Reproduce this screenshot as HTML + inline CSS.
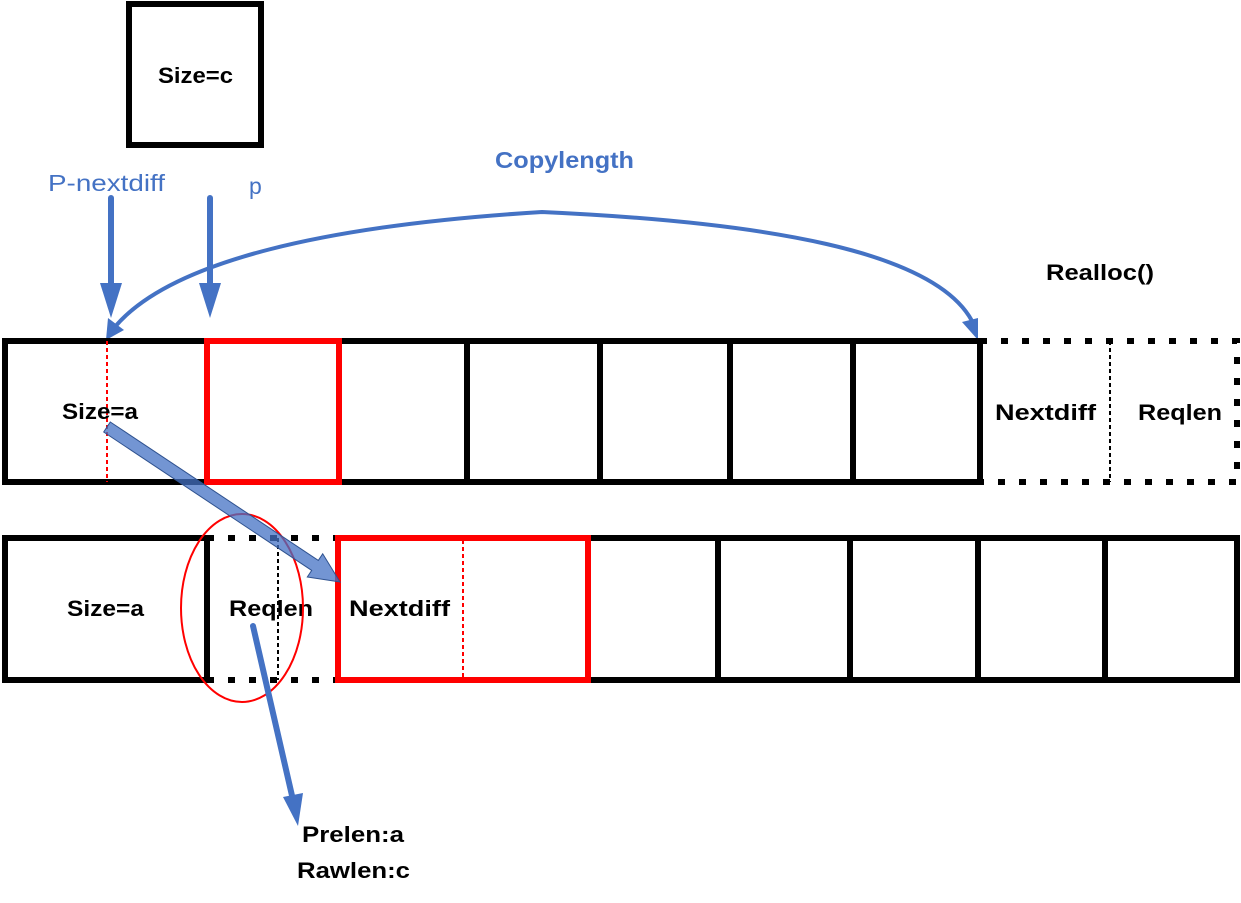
<!DOCTYPE html>
<html><head><meta charset="utf-8"><style>
html,body{margin:0;padding:0;background:#fff;}
svg{display:block;}
text{font-family:"Liberation Sans",sans-serif;}
</style></head><body>
<svg width="1241" height="903" viewBox="0 0 1241 903" xmlns="http://www.w3.org/2000/svg">
<!-- Size=c box -->
<rect x="129" y="4" width="132" height="141" fill="none" stroke="#000" stroke-width="6"/>
<text x="158" y="83" font-size="22" font-weight="bold" textLength="75" lengthAdjust="spacingAndGlyphs">Size=c</text>

<text x="48" y="191" font-size="23" fill="#4472C4" textLength="117" lengthAdjust="spacingAndGlyphs">P-nextdiff</text>
<text x="249" y="194" font-size="23" fill="#4472C4">p</text>
<text x="495" y="168" font-size="23" font-weight="bold" fill="#4472C4" textLength="139" lengthAdjust="spacingAndGlyphs">Copylength</text>
<text x="1046" y="280" font-size="22" font-weight="bold" textLength="108" lengthAdjust="spacingAndGlyphs">Realloc()</text>

<!-- down arrows -->
<line x1="111" y1="198" x2="111" y2="285" stroke="#4472C4" stroke-width="6" stroke-linecap="round"/>
<polygon points="100,283 122,283 111,318" fill="#4472C4"/>
<line x1="210" y1="198" x2="210" y2="285" stroke="#4472C4" stroke-width="6" stroke-linecap="round"/>
<polygon points="199,283 221,283 210,318" fill="#4472C4"/>

<!-- curved copylength -->
<path d="M114,328 C170,260 330,225 542,212 C760,222 940,250 974,325" fill="none" stroke="#4472C4" stroke-width="4"/>
<polygon points="106,340 108,318 124,330" fill="#4472C4"/>
<polygon points="978,340 962,322 978,318" fill="#4472C4"/>

<!-- top row -->
<rect x="5" y="341" width="975" height="141" fill="none" stroke="#000" stroke-width="6"/>
<g stroke="#000" stroke-width="6">
<line x1="467" y1="341" x2="467" y2="482"/>
<line x1="600" y1="341" x2="600" y2="482"/>
<line x1="730" y1="341" x2="730" y2="482"/>
<line x1="853" y1="341" x2="853" y2="482"/>
</g>
<rect x="207" y="341" width="132" height="141" fill="none" stroke="#f00" stroke-width="6"/>
<line x1="107" y1="341" x2="107" y2="482" stroke="#f00" stroke-width="2" stroke-dasharray="4,3"/>
<text x="62" y="419" font-size="22" font-weight="bold" textLength="76" lengthAdjust="spacingAndGlyphs">Size=a</text>
<!-- dotted realloc -->
<path d="M980,341 H1237 V482 H980" fill="none" stroke="#000" stroke-width="6" stroke-dasharray="7,14"/>
<line x1="1110" y1="341" x2="1110" y2="482" stroke="#000" stroke-width="2" stroke-dasharray="4,3"/>
<text x="995" y="420" font-size="22" font-weight="bold" textLength="101" lengthAdjust="spacingAndGlyphs">Nextdiff</text>
<text x="1138" y="420" font-size="22" font-weight="bold" textLength="84" lengthAdjust="spacingAndGlyphs">Reqlen</text>

<!-- bottom row -->
<rect x="5" y="538" width="202" height="142" fill="none" stroke="#000" stroke-width="6"/>
<path d="M207,538 H338 M207,680 H338" stroke="#000" stroke-width="6" stroke-dasharray="7,14"/>
<line x1="278" y1="538" x2="278" y2="680" stroke="#000" stroke-width="2" stroke-dasharray="4,3"/>
<rect x="588" y="538" width="649" height="142" fill="none" stroke="#000" stroke-width="6"/>
<g stroke="#000" stroke-width="6">
<line x1="718" y1="538" x2="718" y2="680"/>
<line x1="850" y1="538" x2="850" y2="680"/>
<line x1="978" y1="538" x2="978" y2="680"/>
<line x1="1105" y1="538" x2="1105" y2="680"/>
</g>
<rect x="338" y="538" width="250" height="142" fill="none" stroke="#f00" stroke-width="6"/>
<line x1="463" y1="540" x2="463" y2="678" stroke="#f00" stroke-width="2" stroke-dasharray="4,3"/>
<text x="67" y="616" font-size="22" font-weight="bold" textLength="77" lengthAdjust="spacingAndGlyphs">Size=a</text>
<text x="229" y="616" font-size="22" font-weight="bold" textLength="84" lengthAdjust="spacingAndGlyphs">Reqlen</text>
<text x="349" y="616" font-size="22" font-weight="bold" textLength="101" lengthAdjust="spacingAndGlyphs">Nextdiff</text>
<ellipse cx="242" cy="608" rx="61" ry="94" fill="none" stroke="#f00" stroke-width="2"/>

<!-- diagonal block arrow -->
<polygon points="110.3,422 318.3,560.4 322.7,553.8 340,582 307.3,577 311.7,570.4 103.7,432" fill="#4472C4" fill-opacity="0.75" stroke="#2F528F" stroke-width="1"/>

<!-- reqlen arrow -->
<line x1="253" y1="626" x2="293" y2="800" stroke="#4472C4" stroke-width="6" stroke-linecap="round"/>
<polygon points="283,797 303,793 298,826" fill="#4472C4"/>
<text x="302" y="842" font-size="22" font-weight="bold" textLength="102" lengthAdjust="spacingAndGlyphs">Prelen:a</text>
<text x="297" y="878" font-size="22" font-weight="bold" textLength="113" lengthAdjust="spacingAndGlyphs">Rawlen:c</text>
</svg>
</body></html>
